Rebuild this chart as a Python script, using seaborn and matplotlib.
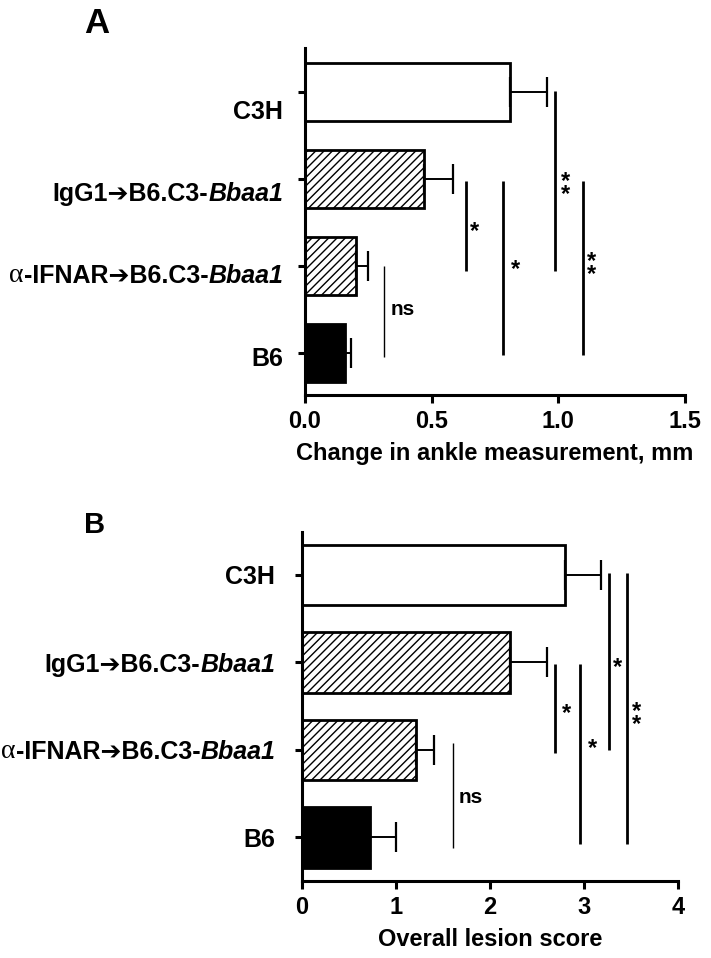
import matplotlib
matplotlib.use("Agg")
import matplotlib.pyplot as plt
import seaborn as sns
import pandas as pd

# ---------------- data ----------------
categories = ["C3H", "IgG1\u2794B6.C3-Bbaa1", "\u03b1-IFNAR\u2794B6.C3-Bbaa1", "B6"]
# tick label pieces: (text, style) read right-to-left when drawn
label_parts = [
    [("C3H", "b")],
    [("IgG1\u2794B6.C3-", "b"), ("Bbaa1", "bi")],
    [("\u03b1", "greek"), ("-IFNAR\u2794B6.C3-", "b"), ("Bbaa1", "bi")],
    [("B6", "b")],
]
ankle_mean = [0.81, 0.47, 0.20, 0.157]
ankle_sem = [0.145, 0.115, 0.05, 0.025]
lesion_mean = [2.80, 2.21, 1.21, 0.72]
lesion_sem = [0.38, 0.40, 0.19, 0.28]

ankle_xticks = [0.0, 0.5, 1.0, 1.5]
ankle_xticklabels = ["0.0", "0.5", "1.0", "1.5"]
lesion_xticks = [0, 1, 2, 3, 4]
lesion_xticklabels = ["0", "1", "2", "3", "4"]

# significance comparisons: (group a, group b, label)
ankle_sig = [(2, 3, "ns"), (1, 2, "*"), (1, 3, "*"), (0, 2, "**"), (1, 3, "**")]
lesion_sig = [(2, 3, "ns"), (1, 2, "*"), (1, 3, "*"), (0, 2, "*"), (0, 3, "**")]

# ---------------- layout ----------------
W, H = 711, 958
fills = ["white", "white", "white", "black"]
hatches = [None, "////", "////", None]

ankle_sig_layout = [
    dict(x=0.311, y0=2.0, y1=3.05, tx=0.386, ty=2.5, lw=1.0),
    dict(x=0.637, y0=1.02, y1=2.06, tx=0.67, ty=1.6, lw=2.0),
    dict(x=0.783, y0=1.02, y1=3.02, tx=0.83, ty=2.04, lw=2.0),
    dict(x=0.985, y0=-0.01, y1=2.06, tx=1.03, ty=1.1, lw=2.0),
    dict(x=1.096, y0=1.02, y1=3.02, tx=1.13, ty=2.02, lw=2.0),
]
lesion_sig_layout = [
    dict(x=1.61, y0=1.92, y1=3.12, tx=1.79, ty=2.54, lw=1.0),
    dict(x=2.69, y0=1.02, y1=2.04, tx=2.81, ty=1.58, lw=2.0),
    dict(x=2.96, y0=1.02, y1=3.07, tx=3.09, ty=1.98, lw=2.0),
    dict(x=3.27, y0=-0.02, y1=2.0, tx=3.36, ty=1.06, lw=2.0),
    dict(x=3.46, y0=-0.02, y1=3.07, tx=3.56, ty=1.64, lw=2.0),
]

sns.set_style("ticks")
plt.rcParams["font.family"] = ["Liberation Sans", "DejaVu Sans"]
plt.rcParams["hatch.linewidth"] = 1.0
plt.rcParams["hatch.color"] = "black"
for k in ["text.color", "axes.labelcolor", "xtick.color", "ytick.color", "axes.edgecolor"]:
    plt.rcParams[k] = "black"

fig = plt.figure(figsize=(W / 100, H / 100), dpi=100)

SANS = ["Liberation Sans", "DejaVu Sans"]
SERIF = ["Liberation Serif", "DejaVu Serif"]


def draw_labels(ax, dx_pt, dy_pts, size):
    for i, parts in enumerate(label_parts):
        prev = None
        for text, style in reversed(parts):
            kw = dict(fontsize=size, color="black")
            if style == "b":
                kw.update(family=SANS, fontweight="bold")
            elif style == "bi":
                kw.update(family=SANS, fontweight="bold", fontstyle="italic")
            else:
                kw.update(family=SERIF, fontweight="normal", fontsize=size + 2)
            if prev is None:
                prev = ax.annotate(text, xy=(0, i), xycoords=ax.get_yaxis_transform(),
                                   xytext=(-dx_pt, -dy_pts[i]), textcoords="offset points",
                                   ha="right", va="center", annotation_clip=False, **kw)
            else:
                prev = ax.annotate(text, xy=(0, 0), xycoords=prev,
                                   ha="right", va="bottom", annotation_clip=False, **kw)


def panel(rect, means, sems, xticks, xticklabels, xlim, ylim, barw, sig, sig_layout,
          xlabel, letter, letter_pos, letter_size, label_dx, label_dy):
    ax = fig.add_axes(rect)
    df = pd.DataFrame({"group": categories, "value": means})
    sns.barplot(data=df, x="value", y="group", hue="group", order=categories,
                hue_order=categories, palette=fills, legend=False, orient="h",
                width=barw, edgecolor="black", linewidth=2.0, ax=ax, errorbar=None,
                saturation=1)
    for p, h in zip(ax.patches, hatches):
        if h:
            p.set_hatch(h)
    ypos = list(range(len(categories)))
    ax.errorbar(means, ypos, xerr=[[0] * len(sems), sems], fmt="none", ecolor="black",
                elinewidth=1.4, capsize=11, capthick=1.6, zorder=1)
    for (a, b, lab), lay in zip(sig, sig_layout):
        ax.vlines(lay["x"], lay["y0"], lay["y1"], color="black", lw=lay["lw"])
        if lab == "ns":
            ax.text(lay["tx"], lay["ty"], lab, fontsize=15, fontweight="bold",
                    ha="center", va="center")
        elif lab == "**":
            ax.text(lay["tx"], lay["ty"], "*\n*", fontsize=17, fontweight="bold",
                    ha="center", va="center", linespacing=0.45)
        else:
            ax.text(lay["tx"], lay["ty"], lab, fontsize=17, fontweight="bold",
                    ha="center", va="center")
    ax.set_xlim(*xlim)
    ax.set_ylim(*ylim)
    ax.set_xticks(xticks)
    ax.set_xticklabels(xticklabels, fontsize=17, fontweight="bold")
    ax.set_yticks(ypos)
    ax.set_yticklabels([""] * len(ypos))
    ax.set_ylabel("")
    ax.set_xlabel(xlabel, fontsize=17, fontweight="bold", labelpad=6)
    sns.despine(ax=ax)
    for s in ["left", "bottom"]:
        ax.spines[s].set_linewidth(2.2)
    ax.tick_params(axis="x", length=6, width=2.2, pad=5)
    ax.tick_params(axis="y", length=5, width=2.2)
    draw_labels(ax, label_dx, label_dy, 18)
    fig.text(letter_pos[0], letter_pos[1], letter, fontsize=letter_size,
             fontweight="bold", ha="left", va="baseline")
    return ax


panel([305 / W, 1 - 395 / H, 380 / W, 347 / H], ankle_mean, ankle_sem,
      ankle_xticks, ankle_xticklabels, (0, 1.5), (3.483, -0.506), 0.667,
      ankle_sig, ankle_sig_layout, "Change in ankle measurement, mm",
      "A", (84 / W, 1 - 33 / H), 25, 15.8, [14.5, 11, 7.5, 4.5])

panel([302 / W, 1 - 881 / H, 376 / W, 349 / H], lesion_mean, lesion_sem,
      lesion_xticks, lesion_xticklabels, (0, 4), (3.497, -0.49), 0.69,
      lesion_sig, lesion_sig_layout, "Overall lesion score",
      "B", (84 / W, 1 - 533 / H), 21, 19.4, [1.5, 1.5, 1.5, 1.5])

fig.savefig("out.png", dpi=100)
